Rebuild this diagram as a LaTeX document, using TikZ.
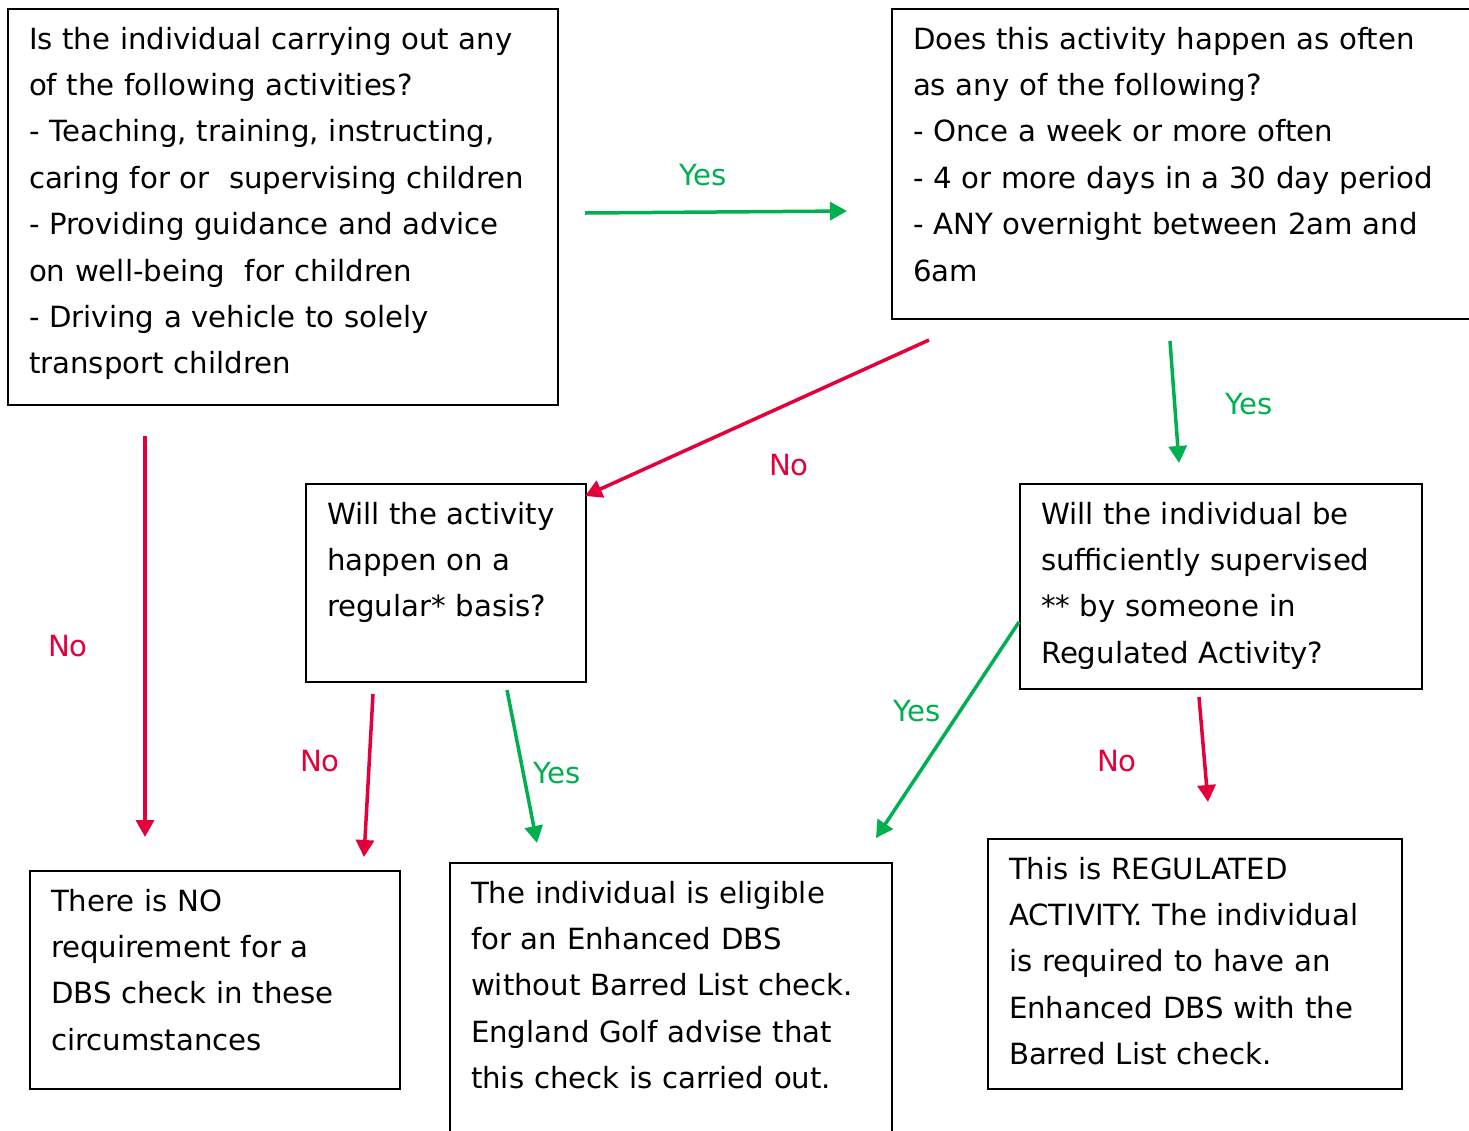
\documentclass[tikz,border=0pt]{standalone}
\usepackage{fontspec}
\setmainfont{DejaVu Sans}
\usetikzlibrary{arrows.meta,positioning}
\definecolor{yesgreen}{RGB}{0,176,80}
\definecolor{nored}{RGB}{228,0,59}
\tikzset{
    every node/.style={font=\fontsize{14.6}{23.2}\selectfont},
    qbox/.style 2 args={draw,line width=1pt,anchor=north west,align=left,
        inner xsep=10.5pt,inner ysep=0pt,text height=20pt,
        text width=#1,text depth=#2},
    yesarrow/.style={draw=yesgreen,line width=1.75pt,-{Triangle[length=8.5pt,width=9pt]}},
    noarrow/.style={draw=nored,line width=1.75pt,-{Triangle[length=8.5pt,width=9pt]}},
    yeslabel/.style={text=yesgreen,inner sep=0pt},
    nolabel/.style={text=nored,inner sep=0pt}
}

\begin{document}
\begin{tikzpicture}[x=0.5pt,y=-0.5pt]
    \useasboundingbox (0,0) rectangle (1469,1131);
    % question boxes
    \node[qbox={254pt}{178pt}] (act) at (7,8)
        {Is the individual carrying out any\\
         of the following activities?\\
         - Teaching, training, instructing,\\
         caring for or~ supervising children\\
         - Providing guidance and advice\\
         on well-being~ for children\\
         - Driving a vehicle to solely\\
         transport children};
    \node[qbox={273.5pt}{135pt}] (often) at (891,8)
        {Does this activity happen as often\\
         as any of the following?\\
         - Once a week or more often\\
         - 4 or more days in a 30 day period\\
         - ANY overnight between 2am and\\
         6am};
    \node[qbox={119pt}{79pt}] (regular) at (305,483)
        {Will the activity\\
         happen on a\\
         regular* basis?};
    \node[qbox={180pt}{82.5pt}] (superv) at (1019,483)
        {Will the individual be\\
         sufficiently supervised\\
         {**} by someone in\\
         Regulated Activity?};
    % outcome boxes
    \node[qbox={164pt}{89pt}] (nodbs) at (29,870)
        {There is NO\\
         requirement for a\\
         DBS check in these\\
         circumstances};
    \node[qbox={200pt}{121.5pt}] (enh) at (449,862)
        {The individual is eligible\\
         for an Enhanced DBS\\
         without Barred List check.\\
         England Golf advise that\\
         this check is carried out.};
    \node[qbox={186pt}{105pt}] (reg) at (987,838)
        {This is REGULATED\\
         ACTIVITY. The individual\\
         is required to have an\\
         Enhanced DBS with the\\
         Barred List check.};

    % arrow ends
    \coordinate (a1) at (585,213);   \coordinate (a2) at (847,211);
    \coordinate (b1) at (929,340);   \coordinate (b2) at (585,496);
    \coordinate (c1) at (1170,341);  \coordinate (c2) at (1179,463);
    \coordinate (d1) at (145,436);   \coordinate (d2) at (145,837);
    \coordinate (e1) at (373,694);   \coordinate (e2) at (364,857);
    \coordinate (f1) at (507,690);   \coordinate (f2) at (537,843);
    \coordinate (g1) at (1019,622);  \coordinate (g2) at (876,838);
    \coordinate (h1) at (1199,697);  \coordinate (h2) at (1208,802);

    \draw[yesarrow] (a1) -- (a2);
    \draw[noarrow]  (b1) -- (b2);
    \draw[yesarrow] (c1) -- (c2);
    \draw[noarrow]  (d1) -- (d2);
    \draw[noarrow]  (e1) -- (e2);
    \draw[yesarrow] (f1) -- (f2);
    \draw[yesarrow] (g1) -- (g2);
    \draw[noarrow]  (h1) -- (h2);

    % labels
    \node[yeslabel] (ya) at (703,175) {Yes};
    \node[nolabel]  (nb) at (789,465) {No};
    \node[yeslabel] (yc) at (1249,404) {Yes};
    \node[nolabel]  (nd) at (68,646) {No};
    \node[nolabel]  (ne) at (320,761) {No};
    \node[yeslabel] (yf) at (557,773) {Yes};
    \node[yeslabel] (yg) at (917,711) {Yes};
    \node[nolabel]  (nh) at (1117,761) {No};
\end{tikzpicture}
\end{document}
